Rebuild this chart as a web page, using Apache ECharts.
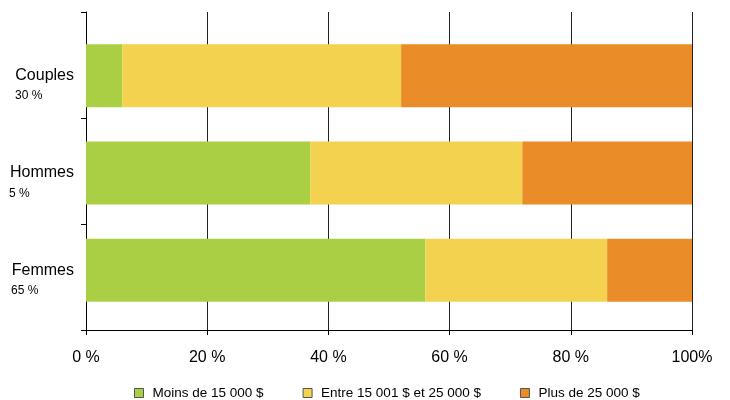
<!DOCTYPE html>
<html><head><meta charset="utf-8">
<script src="https://cdn.jsdelivr.net/npm/echarts@6/dist/echarts.min.js"></script>
<style>html,body{margin:0;padding:0;background:#fff}#c{width:730px;height:400px}</style>
</head><body><div id="c"></div>
<script>
const categories = ['Femmes', 'Hommes', 'Couples'];
const shares = ['65 %', '5 %', '30 %'];
const seriesNames = ['Moins de 15 000 $', 'Entre 15 001 $ et 25 000 $', 'Plus de 25 000 $'];
const low = [56, 37, 6];
const mid = [30, 35, 46];
const high = [14, 28, 48];

const FONT = '"Liberation Sans", Arial, sans-serif';
const colors = ['#AACF45', '#F3D250', '#EA8C28'];
const cv = document.createElement('canvas').getContext('2d');
cv.font = '16px ' + FONT;
function w(t){ return Math.ceil(cv.measureText(t).width); }

const chart = echarts.init(document.getElementById('c'), null, {renderer: 'canvas'});
const seriesData = [low, mid, high];
const rich = {
  g: {lineHeight: 21, fontSize: 10},
  n: {fontSize: 16, lineHeight: 20, color: '#000', fontFamily: FONT}
};
categories.forEach((c, i) => {
  rich['p' + i] = {fontSize: 12, lineHeight: 21, color: '#000', fontFamily: FONT, align: 'left', width: w(c)};
});
chart.setOption({
  animation: false,
  textStyle: {fontFamily: FONT},
  legend: {
    left: 129, top: 381, itemWidth: 9, itemHeight: 9, itemGap: 39,
    icon: 'rect',
    itemStyle: {borderColor: '#555', borderWidth: 1},
    textStyle: {fontSize: 13.5, color: '#000', fontFamily: FONT, padding: [0, 0, 0, 4]},
    data: seriesNames
  },
  grid: [
    {left: 86, right: 38, top: 12, bottom: 70},
    {left: 86, right: 38, top: 27, bottom: 81}
  ],
  xAxis: [
    {gridIndex: 0, type: 'value', min: 0, max: 100, interval: 20,
     axisLine: {show: true, lineStyle: {color: '#000', width: 1}},
     axisTick: {show: true, length: 5, lineStyle: {color: '#000'}},
     splitLine: {show: true, lineStyle: {color: '#222', width: 1}},
     axisLabel: {fontSize: 16, color: '#000', margin: 20, fontFamily: FONT,
       formatter: v => v === 100 ? '100%' : v + ' %'}},
    {gridIndex: 1, type: 'value', min: 0, max: 100, show: false}
  ],
  yAxis: [
    {gridIndex: 0, type: 'category', data: ['', '', ''],
     axisLine: {show: true, lineStyle: {color: '#000'}},
     axisTick: {show: true, length: 5, lineStyle: {color: '#000'}},
     axisLabel: {show: false}},
    {gridIndex: 1, type: 'category', data: categories,
     axisLine: {show: false}, axisTick: {show: false},
     axisLabel: {
       align: 'right', margin: 12, color: '#000',
       formatter: (v, i) => '{g| }\n{n|' + v + '}\n{p' + i + '|' + shares[i] + '}',
       rich: rich
     }}
  ],
  series: seriesNames.map((n, k) => ({
    name: n, type: 'bar', stack: 'all', xAxisIndex: 1, yAxisIndex: 1,
    barWidth: 63, data: seriesData[k],
    itemStyle: {color: colors[k]}
  }))
});
</script></body></html>
